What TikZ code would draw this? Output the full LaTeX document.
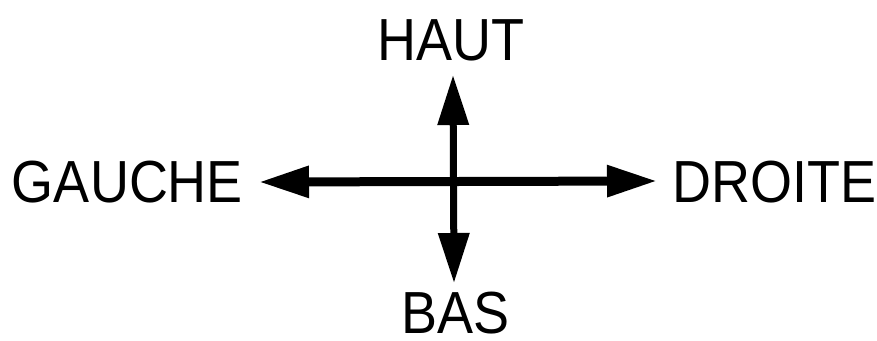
\documentclass[tikz,border=0pt]{standalone}
\usepackage{fontspec}
\setmainfont{Liberation Sans}
\usetikzlibrary{arrows.meta}
\tikzset{
  lbl/.style={inner sep=0pt, font=\fontsize{54}{60}\selectfont, yscale=1.1, transform shape},
  dbl/.style={{Triangle[length=50pt,width=30pt]}-{Triangle[length=50pt,width=30pt]}, line width=#1},
}
\begin{document}
\begin{tikzpicture}[x=1pt,y=-1pt]
\useasboundingbox (0,0) rectangle (877,340);
\node[lbl] (haut) at (451,40.5) {HAUT};
\node[lbl] (gauche) at (127.5,182.5) {GAUCHE};
\node[lbl] (droite) at (774.5,182.5) {DROITE};
\node[lbl] (bas) at (455.5,313) {BAS};
\coordinate (L) at (259,182);
\coordinate (R) at (657,181);
\coordinate (U) at (453,75);
\coordinate (D) at (454,283);
\draw[dbl=9pt] (L) -- (R);
\draw[dbl=7pt] (U) -- (D);
\end{tikzpicture}
\end{document}
